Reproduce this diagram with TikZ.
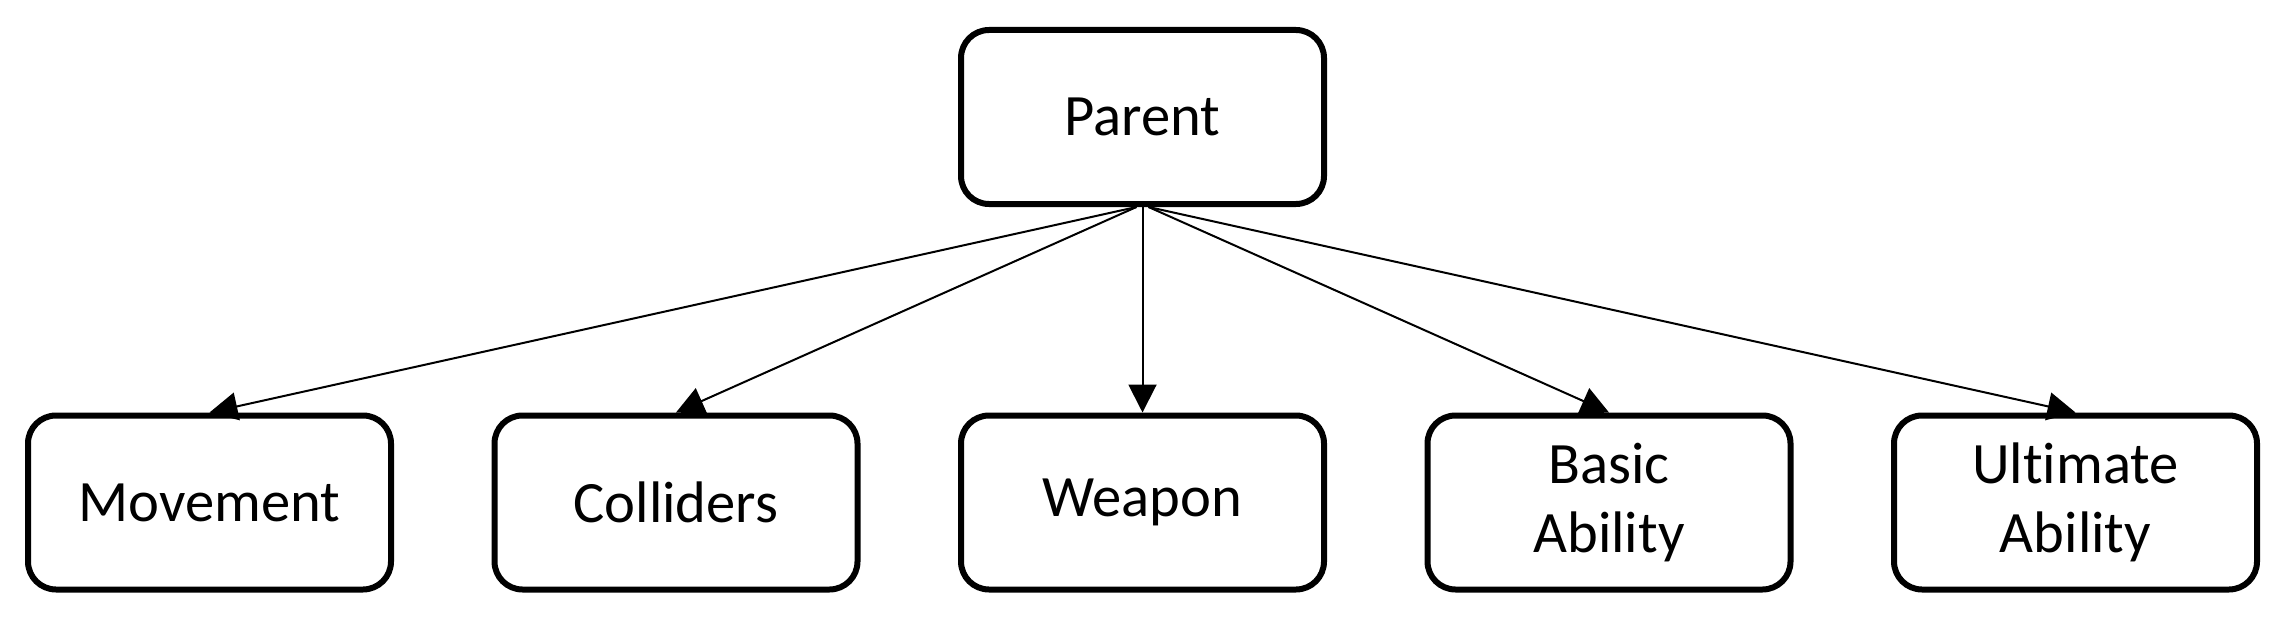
\documentclass[tikz,border=0pt]{standalone}
\usepackage{fontspec}
\setmainfont{Carlito}[Ligatures=NoCommon]
\usetikzlibrary{arrows.meta}
\begin{document}
\begin{tikzpicture}[x=0.5pt,y=-0.5pt,
  box/.style={draw=black,line width=3pt,rounded corners=14pt,
    minimum width=181.5pt,minimum height=87pt,align=center,
    font=\fontsize{29.3pt}{34.5pt}\selectfont,inner sep=0pt},
  conn/.style={line width=1pt,-{Triangle[length=14pt,width=14pt]}}]
\useasboundingbox (0,0) rectangle (2291,626);
\node[box] (P) at (1142.5,117) {Parent};
\node[box] (M) at (209.5,502.5) {Movement};
\node[box] (C) at (676,502.5) {Colliders};
\node[box] (W) at (1142.5,502.5) {Weapon};
\node[box] (B) at (1609,502.5) {Basic\\Ability};
\node[box] (U) at (2075.5,502.5) {Ultimate\\Ability};
\coordinate (PL) at ([xshift=-3pt]P.south);
\coordinate (PR) at ([xshift=3pt]P.south);
\draw[conn] (PL) -- (M.north);
\draw[conn] (PL) -- (C.north);
\draw[conn] (P.south) -- (W.north);
\draw[conn] (PR) -- (B.north);
\draw[conn] (PR) -- (U.north);
\end{tikzpicture}
\end{document}
